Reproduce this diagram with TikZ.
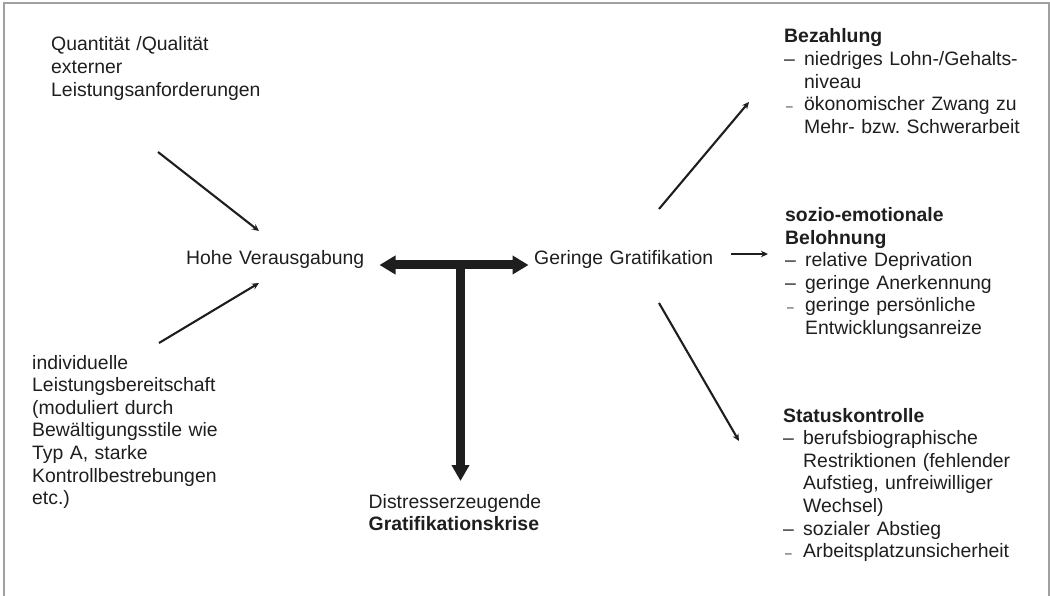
\documentclass[tikz,border=0pt]{standalone}
\usepackage{fontspec}
\setmainfont{Liberation Sans}
\usetikzlibrary{arrows.meta}
\frenchspacing
\definecolor{txt}{RGB}{30,30,30}
\definecolor{frame}{RGB}{160,160,160}
\newcommand{\itm}{\makebox[20pt][l]{–}}
\newcommand{\itms}{\makebox[20pt][l]{\hspace*{2pt}\fontsize{12}{12}\selectfont –}}
\newcommand{\cnt}{\hspace*{20pt}}
\begin{document}
\begin{tikzpicture}[x=1pt,y=-1pt,
  lbl/.style={inner sep=0pt, anchor=base west, text width=320pt, align=left, text=txt,
    font=\fontsize{19.4}{22.6}\selectfont},
  thin/.style={line width=2.1pt, draw=txt, -{Stealth[length=7pt,width=6.5pt]}},
  thick/.style={line width=9pt, draw=txt},
  bord/.style={draw=frame, line width=1.5pt}]
\useasboundingbox (0,0) rectangle (1050,596);
\draw[bord] (4,600) -- (4,3) -- (1049,3) -- (1049,600);

\node[lbl] (quant) at (51,51) {Quantität /Qualität\\externer\\Leistungsanforderungen};
\node[lbl] (indiv) at (32,369) {individuelle\\Leistungsbereitschaft\\(moduliert durch\\Bewältigungsstile wie\\Typ A, starke\\Kontrollbestrebungen\\etc.)};
\node[lbl] (hohe) at (186,265) {Hohe Verausgabung};
\node[lbl] (gering) at (534,265) {Geringe Gratifikation};
\node[lbl] (krise) at (368.5,508) {Distresserzeugende\\\textbf{Gratifikationskrise}};
\node[lbl] (bez) at (784,43) {\textbf{Bezahlung}\\\itm niedriges Lohn-/Gehalts-\\\cnt niveau\\\itms ökonomischer Zwang zu\\\cnt Mehr- bzw. Schwerarbeit};
\node[lbl] (sozio) at (785,221.5) {\textbf{sozio-emotionale}\\\textbf{Belohnung}\\\itm relative Deprivation\\\itm geringe Anerkennung\\\itms geringe persönliche\\\cnt Entwicklungsanreize};
\node[lbl] (status) at (783,422) {\textbf{Statuskontrolle}\\\itm berufsbiographische\\\cnt Restriktionen (fehlender\\\cnt Aufstieg, unfreiwilliger\\\cnt Wechsel)\\\itm sozialer Abstieg\\\itms Arbeitsplatzunsicherheit};

\coordinate (a1s) at (158,152);
\coordinate (a1e) at (259,231);
\coordinate (a2s) at (159,343);
\coordinate (a2e) at (259,283);
\coordinate (a3s) at (659,209);
\coordinate (a3e) at (749,102);
\coordinate (a4s) at (731,254);
\coordinate (a4e) at (768,254);
\coordinate (a5s) at (659,303);
\coordinate (a5e) at (739,441);
\coordinate (tl) at (379.5,265);
\coordinate (tr) at (528.5,265);
\coordinate (tm) at (460.5,265);
\coordinate (tb) at (460.5,481);

\draw[thin] (a1s) -- (a1e);
\draw[thin] (a2s) -- (a2e);
\draw[thin] (a3s) -- (a3e);
\draw[thin] (a4s) -- (a4e);
\draw[thin] (a5s) -- (a5e);

\draw[thick, {Triangle[length=16pt,width=18pt]}-{Triangle[length=16pt,width=18pt]}] (tl) -- (tr);
\draw[thick, -{Triangle[length=16pt,width=17pt]}] (tm) -- (tb);
\end{tikzpicture}
\end{document}
